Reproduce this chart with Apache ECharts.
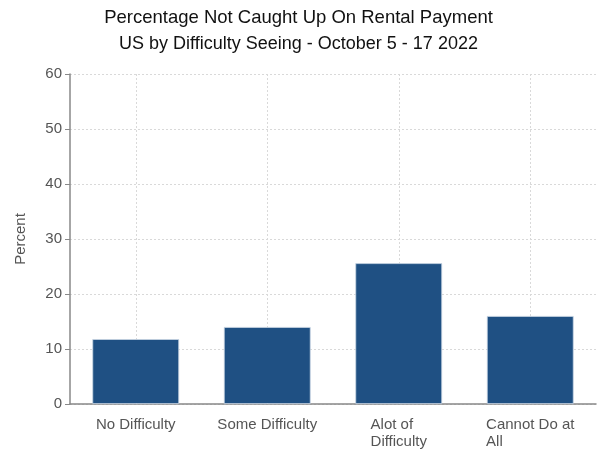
<!DOCTYPE html>
<html>
<head>
<meta charset="utf-8">
<script src="https://cdn.jsdelivr.net/npm/echarts@6/dist/echarts.min.js"></script>
<style>
html, body { margin: 0; padding: 0; background: #fff; }
#chart { width: 597px; height: 452px; }
</style>
</head>
<body>
<div id="chart"></div>
<script>
var categories = ['No Difficulty', 'Some Difficulty', 'Alot of\nDifficulty', 'Cannot Do at\nAll'];
var percentValues = [11.8, 14.0, 25.6, 16.0];
var yTicks = [0, 10, 20, 30, 40, 50, 60];

var myChart = echarts.init(document.getElementById('chart'));

var font = 'Liberation Sans';
var gridLine = { color: '#d9d9d9', type: [2, 2], width: 1 };

var option = {
    animation: false,
    title: [{
        text: 'Percentage Not Caught Up On Rental Payment',
        left: 'center',
        top: 3,
        textStyle: { fontFamily: font, fontSize: 18.5, fontWeight: 'normal', color: '#111' }
    }, {
        text: 'US by Difficulty Seeing - October 5 - 17 2022',
        left: 'center',
        top: 30,
        textStyle: { fontFamily: font, fontSize: 18, fontWeight: 'normal', color: '#111' }
    }],
    grid: { left: 70, right: 1, top: 74, bottom: 48 },
    xAxis: {
        type: 'category',
        data: categories,
        axisLine: { lineStyle: { color: '#888', width: 1.5 } },
        axisTick: { alignWithLabel: true, length: 5, lineStyle: { color: '#888' } },
        axisLabel: {
            interval: 0,
            color: '#555', fontFamily: font, fontSize: 15, margin: 12, lineHeight: 17,
            formatter: function (v) {
                return v.split('\n').map(function (s) { return '{l|' + s + '}'; }).join('\n');
            },
            rich: { l: { align: 'left', color: '#555', fontFamily: font, fontSize: 15, lineHeight: 17 } }
        },
        splitLine: { show: false }
    },
    yAxis: {
        type: 'value',
        min: yTicks[0],
        max: yTicks[yTicks.length - 1],
        interval: 10,
        name: 'Percent',
        nameLocation: 'middle',
        nameGap: 42,
        nameTextStyle: { color: '#555', fontFamily: font, fontSize: 15 },
        axisLine: { show: true, lineStyle: { color: '#888', width: 1.5 } },
        axisTick: { show: true, length: 5, lineStyle: { color: '#888' } },
        axisLabel: { color: '#555', fontFamily: font, fontSize: 15, margin: 8 },
        splitLine: { show: true, lineStyle: gridLine }
    },
    series: [{
        // vertical grid lines through the category centres, behind the bars
        type: 'line',
        data: [],
        z: 0,
        silent: true,
        markLine: {
            z: 1,
            silent: true,
            symbol: 'none',
            label: { show: false },
            lineStyle: gridLine,
            data: categories.map(function (c) { return { xAxis: c }; })
        }
    }, {
        type: 'bar',
        data: percentValues,
        barWidth: '66%',
        z: 3,
        itemStyle: { color: '#1f5083', borderColor: '#c9d6e3', borderWidth: 0.8 }
    }]
};

myChart.setOption(option);
</script>
</body>
</html>
